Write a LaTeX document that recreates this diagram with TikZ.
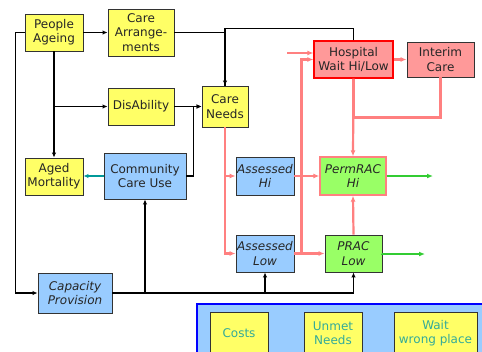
\documentclass[tikz,border=0pt]{standalone}
\usepackage{fontspec}
\setmainfont{DejaVu Sans}
\usetikzlibrary{arrows.meta}
\definecolor{yel}{HTML}{FFFF66}
\definecolor{blu}{HTML}{99CCFF}
\definecolor{pnk}{HTML}{FF9999}
\definecolor{grn}{HTML}{99FF66}
\definecolor{pline}{HTML}{FF8080}
\definecolor{gline}{HTML}{33CC33}
\definecolor{tealc}{HTML}{009999}
\definecolor{ttext}{HTML}{33AA99}
\definecolor{bord}{HTML}{333333}
\begin{document}
\begin{tikzpicture}[x=1pt,y=-1pt,
  box/.style={draw=bord,line width=0.9pt,inner sep=0pt,align=center,text=black!85,
    font=\fontsize{12}{14.3}\selectfont},
  ybox/.style={box,fill=yel},
  bbox/.style={box,fill=blu},
  tip/.style={-{Latex[length=5pt,width=4.5pt]}},
  blk/.style={tip,line width=1.4pt,black},
  blkline/.style={line width=1.4pt,black},
  pk/.style={-{Latex[length=6pt,width=5pt]},line width=2.2pt,pline},
  pkline/.style={line width=2.2pt,pline},
  gr/.style={-{Latex[length=6pt,width=5pt]},line width=2pt,gline},
]
\useasboundingbox (0,0) rectangle (482,351);
\begin{scope}
\clip (0,0) rectangle (482,351);
% panel
\draw[blue,line width=2pt,fill=blu] (197,304) rectangle (500,370);
\node[ybox,text=ttext,minimum width=58pt,minimum height=42pt] (costs) at (239,333) {Costs};
\node[ybox,text=ttext,minimum width=58pt,minimum height=42pt] (un) at (333,333) {Unmet\\Needs};
\node[ybox,text=ttext,minimum width=83pt,minimum height=42pt] (wwp) at (435.5,333) {Wait\\wrong place};
\end{scope}

% nodes
\node[ybox,minimum width=58pt,minimum height=37pt] (pa) at (54,32.5) {People\\Ageing};
\node[ybox,minimum width=66pt,minimum height=47pt] (ca) at (141,32.5) {Care\\Arrange-\\ments};
\node[ybox,minimum width=66pt,minimum height=37pt] (dis) at (141,106.5) {DisAbility};
\node[ybox,minimum width=46pt,minimum height=41pt] (cn) at (225,106.5) {Care\\Needs};
\node[ybox,minimum width=58pt,minimum height=37pt] (am) at (54,176.5) {Aged\\Mortality};
\node[bbox,minimum width=82pt,minimum height=46pt] (ccu) at (145,176) {Community\\Care Use};
\node[bbox,minimum width=74pt,minimum height=40pt,font=\fontsize{12}{14.3}\selectfont\itshape] (cp) at (75,293) {Capacity\\Provision};
\node[box,fill=pnk,draw=red,line width=1.1pt,minimum width=79pt,minimum height=37pt] (hosp) at (353.5,59.5) {Hospital\\Wait Hi/Low};
\node[box,fill=pnk,minimum width=67pt,minimum height=35pt] (ic) at (440.5,59.5) {Interim\\Care};
\node[bbox,minimum width=58pt,minimum height=38pt,font=\fontsize{12}{14.3}\selectfont\itshape] (ah) at (265,176) {Assessed\\Hi};
\node[box,fill=grn,draw=pline,line width=1.3pt,minimum width=66pt,minimum height=38pt,font=\fontsize{12}{14.3}\selectfont\itshape] (pr) at (353,176) {PermRAC\\Hi};
\node[bbox,minimum width=58pt,minimum height=37pt,font=\fontsize{12}{14.3}\selectfont\itshape] (al) at (265,253.5) {Assessed\\Low};
\node[box,fill=grn,minimum width=57pt,minimum height=37pt,font=\fontsize{12}{14.3}\selectfont\itshape] (pl) at (353.5,253.5) {PRAC\\Low};

\coordinate (hin) at (287,53);
\coordinate (gout1) at (433,176);
\coordinate (gout2) at (425,254);

% black connectors
\draw[blk] (pa.east) -- (ca.west);
\draw[blk] (pa.west) -- ++(-9,0) |- (cp.west);
\draw[blk] (pa.south) -- (am.north);
\draw[blk] (pa.south |- dis.west) -- (dis.west);
\draw[blkline] (hosp.north) -- ++(0,-12) -| (cn.north);
\draw[blk] (ca.east) -| (cn.north);
\draw[blk] (dis.east) -- (cn.west);
\draw[blk] (ccu.east) -- ++(7,0) |- (cn.west);
\draw[tip,line width=1.4pt,tealc] (ccu.west) -- (am.east |- ccu.west);
\draw[blkline] (cp.east) -- (pl.south |- cp.east);
\draw[blk] (ccu.south |- cp.east) -- (ccu.south);
\draw[blk] (al.south |- cp.east) -- (al.south);
\draw[blk] (pl.south |- cp.east) -- (pl.south);

% pink connectors
\draw[pk] (cn.south) |- (al.west);
\draw[pk] (cn.south |- ah.west) -- (ah.west);
\draw[pk] (ah.east) -- (pr.west);
\draw[pk] (al.east) -- (pl.west);
\draw[pk] ([xshift=7pt]al.east) |- (hosp.west);
\draw[pk] (hin) -- (hin -| hosp.west);
\draw[pk] (hosp.east) -- (ic.west);
\draw[pkline] (ic.south) -- ++(0,40) -| (hosp.south);
\draw[pk] (hosp.south) -- (pr.north);
\draw[pk] (pl.north) -- (pr.south);

% green
\draw[gr] (pr.east) -- (gout1);
\draw[gr] (pl.east) -- (gout2 -| pl.east) -- (gout2);
\end{tikzpicture}
\end{document}
